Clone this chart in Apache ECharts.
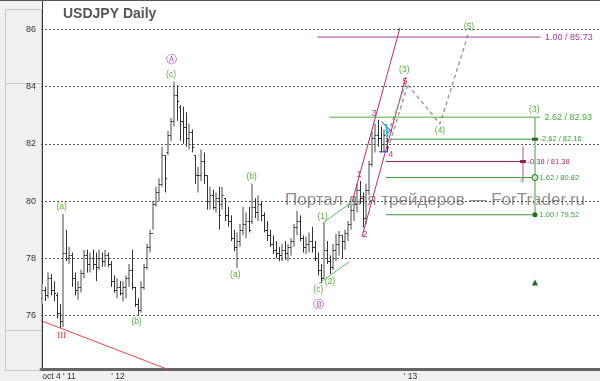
<!DOCTYPE html>
<html>
<head>
<meta charset="utf-8">
<script src="https://cdn.jsdelivr.net/npm/echarts@6.0.0/dist/echarts.min.js"></script>
<style>
html,body{margin:0;padding:0;background:#f0f0f0;}
#chart{width:600px;height:381px;}
</style>
</head>
<body>
<div id="chart"></div>
<script>
// ---------- DATA ----------
const title = 'USDJPY Daily';
const watermark = 'Портал для трейдеров — ForTrader.ru';
const yTicks = [76, 78, 80, 82, 84, 86];
const xTickPos = [5.67, 25.33, 122.83];
const xTickLabels = ["oct 4 ' 11", "' 12", "' 13"];

const open = [76.6,76.9,76.7,77.3,76.9,76.7,76.1,75.8,78.2,78.0,
 78.1,77.3,76.9,77.0,77.5,78.1,77.8,78.0,77.8,77.7,
 78.0,77.9,78.1,77.8,77.2,76.9,77.0,76.8,77.0,77.3,
 77.6,77.0,76.4,76.2,77.0,77.7,78.4,78.9,79.9,80.3,
 80.6,81.6,81.7,82.3,82.8,83.7,83.3,82.8,82.6,82.2,
 82.4,81.6,80.9,80.9,81.4,80.9,80.0,80.2,79.8,80.1,
 79.9,80.1,79.5,79.3,78.7,78.4,78.6,79.0,79.2,79.3,
 79.3,79.8,79.6,79.9,79.5,79.0,78.8,78.5,78.3,78.2,
 78.1,78.3,78.2,78.4,78.6,79.1,79.3,78.7,78.4,78.5,
 78.6,78.4,78.0,77.6,77.3,78.3,77.9,77.7,78.3,78.5,
 78.8,78.6,78.9,79.2,79.7,79.9,80.4,80.1,79.4,80.4,
 81.3,82.2,82.3,82.2,82.0,82.1];
const high = [77.1,77.0,77.5,77.45,77.2,76.8,76.4,79.55,79.0,78.4,
 78.2,77.5,77.2,77.6,78.3,78.3,78.2,78.3,78.2,78.3,
 78.2,78.3,78.2,77.9,77.4,77.3,77.2,77.2,77.4,77.8,
 78.3,77.0,76.6,77.2,77.8,78.5,79.0,80.0,80.5,80.8,
 81.9,81.6,82.45,82.9,84.18,84.05,83.35,83.3,83.1,82.7,
 82.5,81.6,81.2,81.8,81.7,80.9,80.5,80.4,80.3,80.5,
 80.5,80.1,79.8,79.5,79.0,78.9,79.2,79.8,79.6,79.8,
 80.6,80.1,80.2,80.0,79.6,79.3,79.0,78.8,78.6,78.4,
 78.5,78.6,78.5,78.7,79.2,79.66,79.5,78.8,78.75,78.9,
 79.1,78.6,78.2,77.8,79.25,78.6,78.1,78.5,78.85,78.95,
 78.8,79.0,79.3,79.9,80.13,80.6,80.7,80.3,80.6,81.4,
 82.44,82.7,82.84,82.6,82.5,82.2];
const low = [76.4,76.5,76.6,76.7,76.5,75.9,75.56,75.6,77.9,77.8,
 77.0,76.7,76.55,76.8,77.3,77.5,77.5,77.6,77.2,77.6,
 77.7,77.7,77.7,77.0,76.8,76.6,76.7,76.5,76.6,77.0,
 76.9,76.3,76.0,76.1,76.9,77.6,78.2,79.0,79.8,80.0,
 80.5,80.3,81.6,82.1,82.6,82.8,82.1,82.0,81.9,81.8,
 81.7,80.6,80.3,80.7,80.6,79.7,79.7,79.7,79.6,79.0,
 79.7,79.3,79.1,78.6,78.25,77.65,78.4,78.8,78.7,78.9,
 79.2,79.4,79.3,79.3,78.9,78.6,78.4,78.15,78.0,77.9,
 77.9,77.95,77.9,78.1,78.4,78.8,78.6,78.2,78.15,78.2,
 78.2,77.9,77.4,77.13,77.3,77.8,77.45,77.6,77.9,78.1,
 78.0,78.3,78.6,79.0,79.3,79.6,79.9,79.08,79.2,80.2,
 81.2,81.7,81.9,81.7,81.7,81.7];
const close = [76.9,76.7,77.3,76.9,76.8,76.1,75.8,78.2,78.0,78.1,
 77.3,76.9,77.0,77.5,78.1,77.8,78.0,77.8,77.7,78.0,
 77.9,78.1,77.8,77.2,76.9,77.0,76.8,77.0,77.3,77.6,
 77.0,76.4,76.2,77.0,77.7,78.4,78.9,79.9,80.3,80.6,
 81.6,80.8,82.3,82.8,83.7,83.5,82.8,82.6,82.2,82.4,
 81.9,80.9,80.9,81.4,80.9,80.0,80.2,79.8,80.1,79.5,
 80.2,79.5,79.3,78.7,78.4,78.6,79.0,79.2,79.3,79.0,
 79.8,79.6,79.9,79.5,79.0,78.8,78.5,78.3,78.2,78.1,
 78.3,78.2,78.4,78.6,79.1,79.3,78.7,78.4,78.5,78.6,
 78.4,78.0,77.6,77.3,78.3,77.9,77.7,78.3,78.5,78.8,
 78.6,78.9,79.2,79.7,79.9,80.4,80.1,79.4,80.4,81.3,
 82.2,82.3,82.2,82.0,82.3,81.9];

// annotation geometry, in (bar index, price) units
const trendIII = [[-0.33, 75.82], [41.6, 74.13]];
const greenChUpper = [[93.5, 79.22], [103.67, 80.0]];
const greenChLower = [[92.17, 77.11], [102.33, 77.87]];
const magChUpper = [[103.33, 79.95], [119.33, 86.05]];
const magChLower = [[106.67, 78.75], [121.33, 84.34]];
const projection = [[114.67, 82.14], [121.33, 84.13], [132.67, 82.70], [142, 85.80]];
const projection2 = [[116, 82.04], [121.83, 84.03]];
const blueUpper = [[113.17, 82.77], [116.67, 82.42]];
const blueLower = [[112.33, 81.72], [115.33, 81.72]];
const cyanMark = [[114.67, 82.70], [115.17, 82.25]];
const fibRatios = ['1.00', '2.62', '-2.62', '-0.38', '1.62', '1.00'];
const fibPrices = [85.73, 82.93, 82.16, 81.38, 80.82, 79.52];
const fibFrom = [91.77, 95.77, 116, 114.67, 114.67, 114.67];
const fibTo = [166.2, 166, 164.33, 160.33, 164.33, 164.33];
const fibKinds = ['purple', 'greenBig', 'green', 'mag', 'green', 'green'];
const targetBar = [[164.33, 82.93], [164.33, 79.52]];
const pinkBar = [[160.33, 81.91], [160.33, 80.71]];
const targetMarkers = [[164.33, 82.16], [164.33, 80.82], [164.33, 79.52], [160.33, 81.38], [164.33, 77.15]];
const waveLabels = [
  {t:'(a)', x:6.57, y:79.80, k:'g'},
  {t:'III', x:6.57, y:75.29, k:'r'},
  {t:'(b)', x:31.57, y:75.78, k:'g'},
  {t:'Ⓐ', x:43, y:84.93, k:'circ'},
  {t:'(c)', x:43, y:84.42, k:'g'},
  {t:'(b)', x:69.9, y:80.86, k:'g'},
  {t:'(a)', x:64.43, y:77.41, k:'g'},
  {t:'(c)', x:92.1, y:76.92, k:'g'},
  {t:'Ⓑ', x:92.1, y:76.37, k:'circ'},
  {t:'(1)', x:93.57, y:79.47, k:'g'},
  {t:'(2)', x:96, y:77.17, k:'g'},
  {t:'1', x:105.67, y:80.92, k:'m'},
  {t:'2', x:107.67, y:78.83, k:'m'},
  {t:'3', x:110.77, y:83.07, k:'m'},
  {t:'4', x:116.23, y:81.62, k:'rr'},
  {t:'5', x:121, y:84.17, k:'rr'},
  {t:'(3)', x:120.77, y:84.58, k:'g'},
  {t:'(4)', x:132.67, y:82.46, k:'g'},
  {t:'(5)', x:142.33, y:86.11, k:'g'},
  {t:'(3)', x:164.1, y:83.21, k:'g'},
  {t:'4', x:159.9, y:80.69, k:'pk'}
];

// ---------- STYLES ----------
const FONT = '"Liberation Sans", Arial, sans-serif';
const lineStyles = {
  red:{color:'#e04848', width:1},
  greenCh:{color:'#60c060', width:1},
  magCh:{color:'#b03070', width:1},
  proj:{color:'#a0a0a0', width:1.5, type:[4,3]},
  blue:{color:'#2a3ce0', width:1},
  cyan:{color:'#20c0d0', width:2},
  purple:{color:'#a040a0', width:1},
  greenBig:{color:'#4caf3c', width:1},
  green:{color:'#3a9a3a', width:1},
  mag:{color:'#902050', width:1},
  vGreen:{color:'#98d498', width:2},
  vPink:{color:'#dca4c4', width:2}
};
const textStyles = {
  g:{color:'#5aae3a', font:'8.5px ' + FONT},
  r:{color:'#e03030', font:'9px "Liberation Serif", serif'},
  circ:{color:'#b050c0', font:'11px "DejaVu Sans", sans-serif'},
  m:{color:'#a8386e', font:'9px ' + FONT},
  rr:{color:'#d83a50', font:'9px ' + FONT},
  pk:{color:'#d090b0', font:'8px ' + FONT}
};
const fibTextStyle = {
  purple:{color:'#a040a0', font:'9px ' + FONT},
  greenBig:{color:'#4caf3c', font:'9px ' + FONT},
  green:{color:'#3aa03a', font:'7.5px ' + FONT},
  mag:{color:'#a03070', font:'7.5px ' + FONT}
};
const markerStyles = [
  {symbol:'rect', size:[6,3], color:'#1f6e1f'},
  {symbol:'circle', size:6, color:'#c8e8c8', border:'#1f6e1f'},
  {symbol:'circle', size:5, color:'#1f6e1f'},
  {symbol:'rect', size:[6,3], color:'#902050'},
  {symbol:'triangle', size:6, color:'#1f6e1f'}
];

// ---------- BUILD ----------
const ohlcData = open.map((o, i) => [i, o, high[i], low[i], close[i]]);

function renderOHLC(params, api) {
  const i = api.value(0);
  const pO = api.coord([i, api.value(1)]);
  const pH = api.coord([i, api.value(2)]);
  const pL = api.coord([i, api.value(3)]);
  const pC = api.coord([i, api.value(4)]);
  const up = api.value(4) >= api.value(1);
  const x = up ? Math.round(pO[0]) : Math.round(pO[0]) + 0.5;
  const yo = Math.round(pO[1]) + 0.5, yc = Math.round(pC[1]) + 0.5;
  return {type:'group', children:[
    {type:'line', shape:{x1:x, y1:pH[1], x2:x, y2:pL[1]},
     style:{stroke: up ? '#a4a4a4' : '#333', lineWidth: up ? 2 : 1}},
    {type:'line', shape:{x1:x - 1.5, y1:yo, x2:x, y2:yo}, style:{stroke:'#333', lineWidth:1}},
    {type:'line', shape:{x1:x, y1:yc, x2:x + 1.5, y2:yc}, style:{stroke:'#333', lineWidth:1}}
  ]};
}

function seg(points, kind) {
  const s = lineStyles[kind];
  return {type:'line', data:points, symbol:'none', silent:true, z:6, clip:true,
    lineStyle:{color:s.color, width:s.width, type:s.type || 'solid'}, animation:false};
}

const annoSeries = [
  seg(trendIII, 'red'),
  seg(greenChUpper, 'greenCh'), seg(greenChLower, 'greenCh'),
  seg(magChUpper, 'magCh'), seg(magChLower, 'magCh'),
  seg(projection, 'proj'), seg(projection2, 'proj'),
  seg(blueUpper, 'blue'), seg(blueLower, 'blue'), seg(cyanMark, 'cyan'),
  seg(targetBar, 'vGreen'), seg(pinkBar, 'vPink')
];
fibPrices.forEach((p, k) => {
  annoSeries.push(seg([[fibFrom[k], p], [fibTo[k], p]], fibKinds[k]));
});

const textItems = waveLabels.map(w => ({t:w.t, x:w.x, y:w.y, st:textStyles[w.k], align:'center'}));
fibPrices.forEach((p, k) => {
  textItems.push({t:fibRatios[k] + ' / ' + p.toFixed(2), x:fibTo[k] + 1.5, y:p,
    st:fibTextStyle[fibKinds[k]], align:'left'});
});

const chart = echarts.init(document.getElementById('chart'), null, {renderer:'canvas'});
chart.setOption({
  animation:false,
  backgroundColor:'#f0f0f0',
  grid:{left:41, right:0, top:1, bottom:11, show:true, backgroundColor:'#ffffff', borderWidth:0},
  xAxis:{type:'value', min:-1/3, max:186,
    axisLine:{show:true, lineStyle:{color:'#666', width:3, type:[1,1]}},
    axisTick:{show:false}, splitLine:{show:false},
    axisLabel:{customValues:xTickPos, margin:3, fontSize:8.5, color:'#333', fontFamily:FONT,
      formatter:v => {
        let best = 0;
        xTickPos.forEach((p, k) => { if (Math.abs(p - v) < Math.abs(xTickPos[best] - v)) best = k; });
        return xTickLabels[best];
      }}},
  yAxis:{type:'value', min:74.13, max:86.99,
    axisLine:{show:true, lineStyle:{color:'#333', width:1}},
    axisTick:{show:false}, splitLine:{show:false},
    axisLabel:{customValues:yTicks, margin:5, fontSize:9, color:'#333', fontFamily:FONT}},
  graphic:[
    {type:'rect', left:0, top:0, shape:{width:600, height:1}, style:{fill:'#555'}, z:10},
    {type:'rect', left:3, top:7, shape:{width:36, height:74}, style:{fill:'none', stroke:'#c8c8c8'}, z:0},
    {type:'rect', left:3, top:81, shape:{width:36, height:247}, style:{fill:'none', stroke:'#c8c8c8'}, z:0},
    {type:'rect', left:3, top:328, shape:{width:36, height:40}, style:{fill:'none', stroke:'#c8c8c8'}, z:0},
    {type:'text', left:63, top:7, style:{text:title, font:'bold 14px ' + FONT, fill:'#555'}, z:10},
    {type:'text', left:285, top:192, style:{text:watermark, font:'17px ' + FONT, fill:'rgba(135,118,118,0.85)'}, z:1}
  ],
  series:[
    {type:'line', data:[[0, 80]], symbol:'none', lineStyle:{opacity:0}, silent:true, z:1,
      markLine:{symbol:['none','none'], silent:true, label:{show:false}, animation:false,
        lineStyle:{type:[2,2], color:'#555', width:1},
        data:yTicks.map(v => ({yAxis:v}))}},
    {type:'custom', renderItem:renderOHLC, data:ohlcData, encode:{x:0, y:[1,2,3,4]}, z:4, clip:true, silent:true},
    ...annoSeries,
    {type:'scatter', z:8, silent:true,
      data:targetMarkers.map((m, k) => ({value:m, symbol:markerStyles[k].symbol, symbolSize:markerStyles[k].size,
        itemStyle:{color:markerStyles[k].color, borderColor:markerStyles[k].border || markerStyles[k].color, borderWidth:markerStyles[k].border ? 1 : 0, opacity:1}}))},
    {type:'custom', z:9, silent:true, clip:false,
      data:textItems.map(t => [t.x, t.y]),
      renderItem:(params, api) => {
        const it = textItems[params.dataIndex];
        const p = api.coord([api.value(0), api.value(1)]);
        return {type:'text', x:p[0], y:p[1],
          style:{text:it.t, fill:it.st.color, font:it.st.font, align:it.align, verticalAlign:'middle'}};
      }}
  ]
});
</script>
</body>
</html>
